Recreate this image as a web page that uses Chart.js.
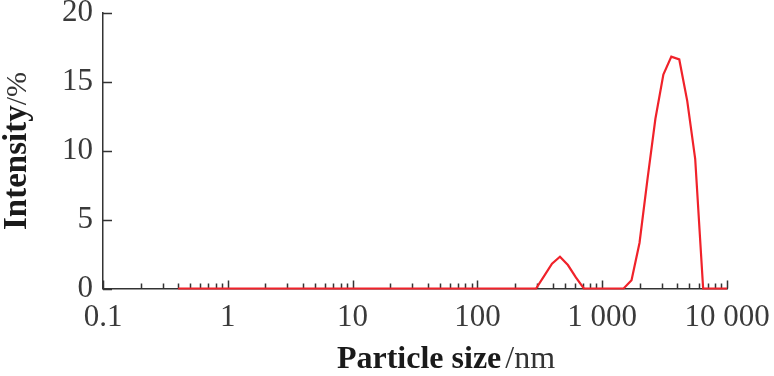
<!DOCTYPE html>
<html lang="en">
<head>
<meta charset="UTF-8">
<title>Particle size distribution</title>
<script src="https://cdn.jsdelivr.net/npm/chart.js"></script>
<style>
  html, body { margin: 0; padding: 0; background: #fff; }
  canvas { display: block; }
</style>
</head>
<body>
<canvas id="sizeChart" width="774" height="376"></canvas>
<script>
// particle size bins (nm)
const sizes = [
  0.4, 0.4632, 0.5365, 0.6213, 0.7195, 0.8332, 0.9649, 1.117, 1.294, 1.499,
  1.736, 2.01, 2.328, 2.696, 3.122, 3.615, 4.187, 4.849, 5.615, 6.503,
  7.531, 8.721, 10.1, 11.7, 13.54, 15.69, 18.17, 21.04, 24.36, 28.21,
  32.67, 37.84, 43.82, 50.75, 58.77, 68.06, 78.82, 91.28, 105.7, 122.4,
  141.8, 164.2, 190.1, 220.2, 255.0, 295.3, 342.0, 396.1, 458.7, 531.2,
  615.1, 712.4, 825.0, 955.4, 1106, 1281, 1484, 1718, 1990, 2305,
  2669, 3091, 3580, 4145, 4801, 5560, 6439, 7456, 8635, 10000
];
// intensity (%)
const intensity = [
  0, 0, 0, 0, 0, 0, 0, 0, 0, 0,
  0, 0, 0, 0, 0, 0, 0, 0, 0, 0,
  0, 0, 0, 0, 0, 0, 0, 0, 0, 0,
  0, 0, 0, 0, 0, 0, 0, 0, 0, 0,
  0, 0, 0, 0, 0, 0, 0.9, 1.8, 2.3, 1.7,
  0.8, 0, 0, 0, 0, 0, 0, 0.6, 3.3, 7.9,
  12.3, 15.5, 16.8, 16.6, 13.6, 9.4, 0, 0, 0, 0
];

const xMajor = [0.1, 1, 10, 100, 1000, 10000];
const xLabels = ['0.1', '1', '10', '100', '1 000', '10 000'];
const yMajor = [0, 5, 10, 15, 20];

const FONT = '"Liberation Serif", "Times New Roman", serif';
const AXIS_COLOR = '#333';

// inward tick marks, drawn under the line
const innerTicks = {
  id: 'innerTicks',
  beforeDatasetsDraw(chart) {
    const { ctx, scales: { x, y }, chartArea } = chart;
    ctx.save();
    ctx.strokeStyle = AXIS_COLOR;
    ctx.lineWidth = 1.5;
    ctx.beginPath();
    x.ticks.forEach(t => {
      const px = Math.round(x.getPixelForValue(t.value)) + 0.5;
      const len = xMajor.includes(t.value) ? 8 : 5;
      ctx.moveTo(px, chartArea.bottom);
      ctx.lineTo(px, chartArea.bottom - len);
    });
    y.ticks.forEach(t => {
      const py = Math.round(y.getPixelForValue(t.value)) + 0.5;
      const len = yMajor.includes(t.value) ? 9 : 5;
      ctx.moveTo(chartArea.left, py);
      ctx.lineTo(chartArea.left + len, py);
    });
    ctx.stroke();
    ctx.restore();
  }
};

// axis titles: bold word + lighter unit
const axisTitles = {
  id: 'axisTitles',
  afterDraw(chart) {
    const { ctx, chartArea } = chart;
    ctx.save();
    ctx.textBaseline = 'alphabetic';

    // x title
    ctx.font = 'bold 32px ' + FONT;
    const a = 'Particle size';
    const wa = ctx.measureText(a).width;
    ctx.font = '32px ' + FONT;
    const b = '/nm';
    const wb = ctx.measureText(b).width;
    const cx = (chartArea.left + chartArea.right) / 2 + 31;
    const sx = cx - (wa + wb + 4) / 2;
    ctx.fillStyle = '#1a1a1a';
    ctx.font = 'bold 32px ' + FONT;
    ctx.fillText(a, sx, 368);
    ctx.font = '32px ' + FONT;
    ctx.fillStyle = '#333';
    ctx.fillText(b, sx + wa + 4, 368);

    // y title
    ctx.translate(26, 151);
    ctx.rotate(-Math.PI / 2);
    ctx.fillStyle = '#1a1a1a';
    ctx.font = 'bold 33px ' + FONT;
    const c = 'Intensity';
    const wc = ctx.measureText(c).width;
    ctx.font = '30px ' + FONT;
    const d = '/%';
    const wd = ctx.measureText(d).width;
    const sy = -(wc + wd) / 2;
    ctx.font = 'bold 33px ' + FONT;
    ctx.fillText(c, sy, 0);
    ctx.font = '30px ' + FONT;
    ctx.fillStyle = '#333';
    ctx.fillText(d, sy + wc, 0);
    ctx.restore();
  }
};

const ctx = document.getElementById('sizeChart').getContext('2d');
new Chart(ctx, {
  type: 'line',
  data: {
    datasets: [{
      data: sizes.map((s, i) => ({ x: s, y: intensity[i] })),
      borderColor: '#f0222a',
      borderWidth: 2.2,
      pointRadius: 0,
      tension: 0,
      fill: false,
      clip: 6
    }]
  },
  options: {
    responsive: false,
    animation: false,
    layout: { padding: { top: 12.5, right: 47, left: 0, bottom: 0 } },
    plugins: {
      legend: { display: false },
      tooltip: { enabled: false }
    },
    scales: {
      x: {
        type: 'logarithmic',
        min: 0.1,
        max: 10000,
        afterBuildTicks(scale) {
          const vals = [];
          for (let d = 0; d < xMajor.length - 1; d++) {
            for (let m = 1; m < 10; m++) vals.push(+(xMajor[d] * m).toPrecision(6));
          }
          vals.push(xMajor[xMajor.length - 1]);
          scale.ticks = vals.map(v => ({ value: v }));
        },
        afterFit(scale) {
          scale.height = 87.5;
          scale.paddingLeft = 0;
          scale.paddingRight = 0;
        },
        grid: { display: false, drawTicks: false },
        border: { display: true, color: AXIS_COLOR, width: 1.5 },
        ticks: {
          autoSkip: false,
          maxRotation: 0,
          padding: 11,
          color: '#3a3a3a',
          font: { family: FONT, size: 31 },
          callback(v) {
            const i = xMajor.indexOf(v);
            return i >= 0 ? xLabels[i] : '';
          }
        }
      },
      y: {
        min: 0,
        max: 20,
        afterFit(scale) {
          scale.width = 103;
          scale.paddingTop = 0;
          scale.paddingBottom = 0;
        },
        grid: { display: false, drawTicks: false },
        border: { display: true, color: AXIS_COLOR, width: 1.5 },
        ticks: {
          stepSize: 2.5,
          padding: 10,
          color: '#3a3a3a',
          font: { family: FONT, size: 31 },
          callback(v) {
            return yMajor.includes(v) ? String(v) : '';
          }
        }
      }
    }
  },
  plugins: [innerTicks, axisTitles]
});
</script>
</body>
</html>
